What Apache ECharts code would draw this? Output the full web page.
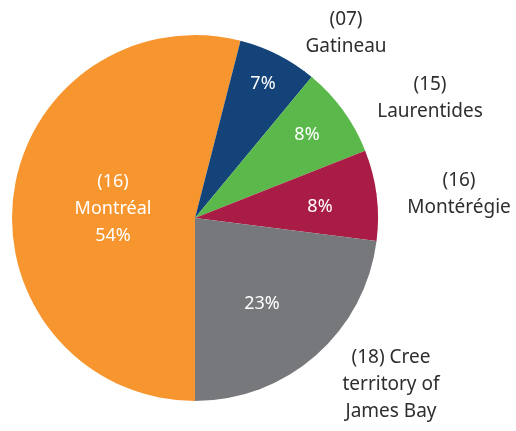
<!DOCTYPE html>
<html>
<head>
<meta charset="utf-8">
<script src="https://cdn.jsdelivr.net/npm/echarts@6/dist/echarts.min.js"></script>
<style>
  html, body { margin: 0; padding: 0; background: #fff; }
  #chart { width: 516px; height: 431px; }
</style>
</head>
<body>
<div id="chart"></div>
<script>
// 数据
var regions = ['Montréal', 'Gatineau', 'Laurentides', 'Montérégie', 'Cree territory of James Bay'];
var codes = ['16', '07', '15', '16', '18'];
var shares = [54, 7, 8, 8, 23];
var outerText = ['', '(07)\nGatineau', '(15)\nLaurentides', '(16)\nMontérégie', '(18) Cree\nterritory of\nJames Bay'];
var colors = ['#f7962f', '#134378', '#5bb94b', '#a91c45', '#77787b'];

// 标签位置
var innerPos = [[113, 209], [263, 84], [307, 135], [320, 207], [262, 304]];
var outerPos = [[0, 0], [346, 33], [430, 98], [459, 194], [391, 385]];

var font = '"Noto Sans", sans-serif';

var pieData = regions.map(function (name, i) {
    return { name: name, value: shares[i] };
});

var chart = echarts.init(document.getElementById('chart'));
var option = {
    backgroundColor: '#fff',
    color: colors,
    animation: false,
    series: [
        {
            type: 'pie',
            center: [195, 218],
            radius: [0, 183],
            startAngle: 270,
            clockwise: true,
            itemStyle: { borderWidth: 0 },
            emphasis: { disabled: true },
            label: {
                show: true,
                position: 'inside',
                color: '#fff',
                fontFamily: font,
                fontSize: 18,
                lineHeight: 27,
                align: 'center',
                formatter: function (p) {
                    var pct = shares[p.dataIndex] + '%';
                    if (p.dataIndex === 0) {
                        return '(' + codes[0] + ')\n' + p.name + '\n' + pct;
                    }
                    return pct;
                }
            },
            labelLayout: function (p) {
                return { x: innerPos[p.dataIndex][0], y: innerPos[p.dataIndex][1], align: 'center', verticalAlign: 'middle' };
            },
            data: pieData
        },
        {
            type: 'pie',
            center: [195, 218],
            radius: [0, 183],
            startAngle: 270,
            clockwise: true,
            silent: true,
            itemStyle: { color: 'rgba(0,0,0,0)' },
            labelLine: { show: false },
            label: {
                show: true,
                position: 'outside',
                overflow: 'none',
                width: 200,
                color: '#2e2e2e',
                fontFamily: font,
                fontSize: 19,
                lineHeight: 27,
                align: 'center',
                formatter: function (p) { return outerText[p.dataIndex]; }
            },
            labelLayout: function (p) {
                return { x: outerPos[p.dataIndex][0], y: outerPos[p.dataIndex][1], align: 'center', verticalAlign: 'middle' };
            },
            data: pieData
        }
    ]
};
chart.setOption(option);
</script>
</body>
</html>
